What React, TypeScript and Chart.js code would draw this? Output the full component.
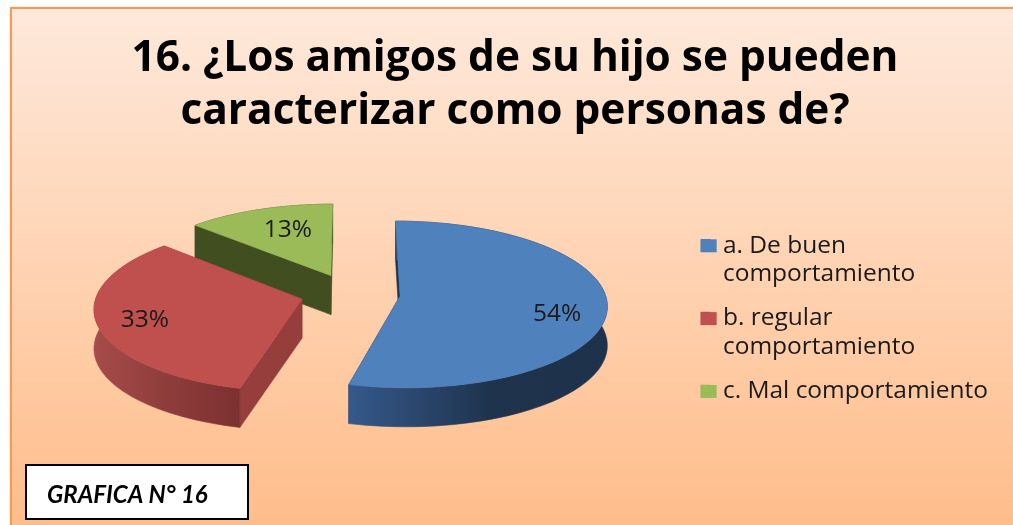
import React, { useEffect, useRef } from "react";
import { Chart, registerables } from "chart.js";

Chart.register(...registerables);

const titleLines = ["16. ¿Los amigos de su hijo se pueden", "caracterizar como personas de?"];
const categories = [
  ["a. De buen", "comportamiento"],
  ["b. regular", "comportamiento"],
  ["c. Mal comportamiento"],
];
const values = [54, 33, 13];
const valueLabels = ["54%", "33%", "13%"];
const topColors = ["#4F81BD", "#C0504D", "#9BBB59"];
const wallColors = [
  ["#35598A", "#1F334D", "#1E324C"],
  ["#A64C4A", "#8E3D3B", "#7C3130"],
  ["#414F20", "#414F20", "#414F20"],
];
const flatWallColors = ["#1F344E", "#953E3C", "#414F20"];
const labelDistance = [0.76, 0.77, 0.58];
const labelNudgeY = [10, 3, -6];
const badgeText = "GRAFICA N° 16";
const FONT = "'Open Sans', Lato, sans-serif";
const BADGE_FONT = "Lato, sans-serif";

const TILT = 0.4;
const PERSPECTIVE = 0.1;
const DEPTH = 39;
const SHIFT_X = -8.5;
const SHIFT_Y = -27;

function project(arc: any, frac: number, ang: number, z: number) {
  const R = arc.outerRadius;
  const mid = (arc.startAngle + arc.endAngle) / 2;
  const off = arc.options.offset;
  const u = off * Math.cos(mid) + frac * R * Math.cos(ang);
  const v = off * Math.sin(mid) + frac * R * Math.sin(ang);
  const w = 1 / (1 - (PERSPECTIVE * v) / R);
  return { x: arc.x + SHIFT_X + u * w, y: arc.y + SHIFT_Y + TILT * v * w + z };
}

function outline(arc: any, z: number) {
  const pts: { x: number; y: number }[] = [];
  const n = 80;
  for (let i = 0; i <= n; i++) {
    pts.push(project(arc, 1, arc.startAngle + ((arc.endAngle - arc.startAngle) * i) / n, z));
  }
  return pts;
}

function poly(ctx: CanvasRenderingContext2D, pts: { x: number; y: number }[], fill: any) {
  ctx.beginPath();
  pts.forEach((p, i) => (i ? ctx.lineTo(p.x, p.y) : ctx.moveTo(p.x, p.y)));
  ctx.closePath();
  ctx.fillStyle = fill;
  ctx.strokeStyle = fill;
  ctx.lineWidth = 0.6;
  ctx.fill();
  ctx.stroke();
}

const panelPlugin = {
  id: "panel",
  beforeDraw(chart: any) {
    const { ctx, width, height } = chart;
    ctx.save();
    const g = ctx.createLinearGradient(0, 8, 0, height);
    g.addColorStop(0, "#FEE9DB");
    g.addColorStop(1, "#FFBD8A");
    ctx.shadowColor = "rgba(0,0,0,0.3)";
    ctx.shadowBlur = 3;
    ctx.fillStyle = g;
    ctx.fillRect(11, 8, width, height);
    ctx.shadowBlur = 0;
    ctx.strokeStyle = "#F79A50";
    ctx.lineWidth = 2;
    ctx.strokeRect(11, 8, width + 20, height + 20);
    ctx.restore();
  },
};

const piePlugin = {
  id: "pie3d",
  beforeDatasetsDraw(chart: any) {
    const { ctx } = chart;
    const arcs = chart.getDatasetMeta(0).data;
    ctx.save();
    [2, 1, 0].forEach((i) => {
      const arc = arcs[i];
      const top = outline(arc, 0);
      const bottom = outline(arc, DEPTH);
      const c0 = project(arc, 0, 0, 0);
      const c1 = project(arc, 0, 0, DEPTH);
      const first = top[0], last = top[top.length - 1];
      const firstB = bottom[0], lastB = bottom[bottom.length - 1];
      poly(ctx, [c0, first, firstB, c1], flatWallColors[i]);
      poly(ctx, [c0, last, lastB, c1], flatWallColors[i]);
      const xs = top.map((p) => p.x);
      const minX = Math.min(...xs), maxX = Math.max(...xs);
      const grad = ctx.createLinearGradient(minX, 0, maxX, 0);
      if (i === 0) {
        grad.addColorStop(0, wallColors[0][0]);
        grad.addColorStop(0.55, wallColors[0][1]);
        grad.addColorStop(1, wallColors[0][2]);
      } else {
        wallColors[i].forEach((c, k) => grad.addColorStop(k / 2, c));
      }
      poly(ctx, [...top, ...bottom.slice().reverse()], grad);
      poly(ctx, [c0, ...top], topColors[i]);
    });
    ctx.fillStyle = "#1a1a1a";
    ctx.font = `24.5px ${FONT}`;
    ctx.textAlign = "center";
    ctx.textBaseline = "middle";
    [0, 1, 2].forEach((i) => {
      const arc = arcs[i];
      const mid = (arc.startAngle + arc.endAngle) / 2;
      const p = project(arc, labelDistance[i], mid, 0);
      ctx.fillText(valueLabels[i], p.x, p.y + labelNudgeY[i]);
    });
    ctx.restore();
    return false;
  },
};

const swatchPlugin = {
  id: "swatches",
  afterDraw(chart: any) {
    const { ctx } = chart;
    ctx.save();
    chart.legend.legendHitBoxes.forEach((b: any, i: number) => {
      ctx.fillStyle = topColors[i];
      ctx.fillRect(b.left, b.top + 6, 16, 13);
    });
    ctx.restore();
  },
};

const badgePlugin = {
  id: "badge",
  afterDraw(chart: any) {
    const { ctx } = chart;
    ctx.save();
    ctx.fillStyle = "#FFFFFF";
    ctx.strokeStyle = "#000000";
    ctx.lineWidth = 2;
    ctx.fillRect(26, 465, 222, 54);
    ctx.strokeRect(26, 465, 222, 54);
    ctx.fillStyle = "#000000";
    ctx.font = `italic bold 24px ${BADGE_FONT}`;
    ctx.textAlign = "left";
    ctx.textBaseline = "middle";
    ctx.fillText(badgeText, 47, 495);
    ctx.restore();
  },
};

export default function App() {
  const ref = useRef<HTMLCanvasElement>(null);
  useEffect(() => {
    const chart = new Chart(ref.current as HTMLCanvasElement, {
      type: "pie",
      data: {
        labels: categories as any,
        datasets: [
          {
            data: values,
            backgroundColor: topColors,
            borderWidth: 0,
            offset: 50,
            radius: 205,
          } as any,
        ],
      },
      options: {
        animation: false,
        responsive: false,
        layout: { padding: { left: 32, right: 15, top: 0, bottom: 42 } },
        plugins: {
          tooltip: { enabled: false },
          title: {
            display: true,
            text: titleLines,
            color: "#000000",
            font: { family: FONT, size: 42.4, weight: "bold", lineHeight: 1.24 },
            padding: { top: 33, bottom: 20 },
          },
          legend: {
            position: "right",
            fullSize: false,
            labels: {
              color: "#1a1a1a",
              font: { family: FONT, size: 24.5, lineHeight: 1.18 },
              boxWidth: 10,
              boxHeight: 13,
              padding: 15,
            },
          },
        },
      },
      plugins: [panelPlugin, piePlugin, swatchPlugin, badgePlugin],
    } as any);
    return () => chart.destroy();
  }, []);
  return (
    <div style={{ position: "fixed", left: 0, top: 0, width: 1013, height: 525 }}>
      <canvas ref={ref} width={1013} height={525} style={{ display: "block" }} />
    </div>
  );
}
